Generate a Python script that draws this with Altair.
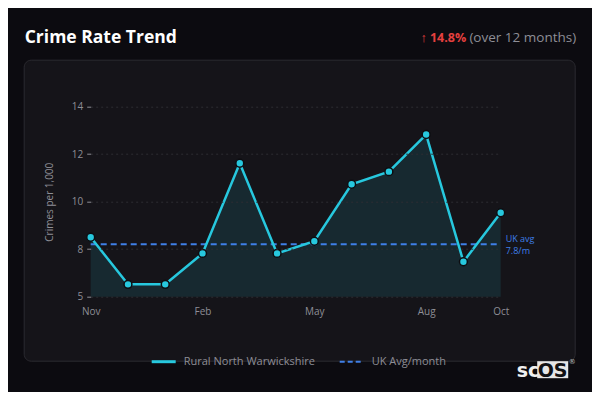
import altair as alt
import pandas as pd

# data
months = ["Nov", "Dec", "Jan", "Feb", "Mar", "Apr", "May", "Jun", "Jul", "Aug", "Sep", "Oct"]
rate = [8.5, 6.52, 6.52, 7.82, 11.61, 7.82, 8.33, 10.73, 11.26, 12.82, 7.47, 9.53]
uk_avg_line = 8.21
uk_avg_label = ["UK avg", "7.8/m"]
y_ticks = [6, 8, 10, 12, 14]
x_labels = ["Nov", "Feb", "May", "Aug", "Oct"]
series_names = ["Rural North Warwickshire", "UK Avg/month"]

W, H = 410, 214
CYAN = "#27c8de"
BLUE = "#3f7fe6"
GRAY = "#8e8e96"
FONT = "Open Sans"

df = pd.DataFrame({"month": months, "rate": rate})
one = pd.DataFrame({"k": [0]})

x_enc = alt.X("month:O", sort=months,
              scale=alt.Scale(type="point", padding=0),
              axis=alt.Axis(values=x_labels, labelAngle=0, ticks=False, domain=False,
                            labelColor=GRAY, labelFontSize=10, labelPadding=10,
                            labelFont=FONT, title=None, zindex=1))
y_scale = alt.Scale(domain=[6, 15], zero=False, nice=False)


def label(text, x, y, font=FONT, **kw):
    return alt.Chart(one).mark_text(font=font, **kw).transform_calculate(
        t=f"'{text}'").encode(x=alt.value(x), y=alt.value(y), text="t:N")


panel = alt.Chart(one).mark_rect(fill="#151419", stroke="#2b2a30", strokeWidth=1,
                                 cornerRadius=7).encode(
    x=alt.value(-66.5), x2=alt.value(484.5), y=alt.value(-22.5), y2=alt.value(278.5))

area = alt.Chart(df).mark_area(color=CYAN, opacity=0.12).encode(
    x=x_enc,
    y=alt.Y("rate:Q", scale=y_scale,
            axis=alt.Axis(values=y_ticks, labelExpr="datum.value == 6 ? '5' : datum.label",
                          grid=True, gridColor="#2e2d33", gridDash=[2, 3], domain=False,
                          tickColor=GRAY, tickSize=4, labelColor=GRAY, labelFontSize=10,
                          labelFont=FONT, labelPadding=4, zindex=1,
                          title="Crimes per 1,000", titleColor=GRAY, titleFontSize=10,
                          titleFont=FONT, titleFontWeight="normal", titleAngle=-90,
                          titleX=-41, titleY=119, titleAlign="center", titleBaseline="middle")),
    y2=alt.datum(6),
)

avg = alt.Chart(one).mark_rule(color=BLUE, strokeWidth=2, strokeDash=[6, 4]).encode(
    y=alt.datum(uk_avg_line), x=alt.value(0), x2=alt.value(W))
avg_t1 = label(uk_avg_label[0], W + 5, 156.5, fontSize=9, color=BLUE, align="left", baseline="middle")
avg_t2 = label(uk_avg_label[1], W + 5, 168, fontSize=9, color=BLUE, align="left", baseline="middle")

line = alt.Chart(df).mark_line(color=CYAN, strokeWidth=2.5).encode(
    x=x_enc, y=alt.Y("rate:Q", scale=y_scale))
pts = alt.Chart(df).mark_point(filled=True, fill=CYAN, stroke="#0d0d11", strokeWidth=1.5,
                               size=62, opacity=1).encode(
    x=x_enc, y=alt.Y("rate:Q", scale=y_scale))

title = label("Crime Rate Trend", -66, -39.5, fontSize=17.5, fontWeight="bold", color="#ffffff",
              align="left", baseline="alphabetic")
delta = label("\u2191 14.8%", 375.5, -41, fontSize=12.5, fontWeight="bold", color="#e5403f",
              align="right", baseline="alphabetic")
delta_note = label("(over 12 months)", 485.5, -41, fontSize=13.5, color=GRAY,
                   align="right", baseline="alphabetic")

leg_line = alt.Chart(one).mark_rule(color=CYAN, strokeWidth=3).encode(
    x=alt.value(61), x2=alt.value(85), y=alt.value(279))
leg_text1 = label(series_names[0], 93, 279, fontSize=11, color=GRAY, align="left", baseline="middle")
leg_dash = alt.Chart(one).mark_rule(color=BLUE, strokeWidth=2, strokeDash=[5, 3]).encode(
    x=alt.value(249), x2=alt.value(273), y=alt.value(279))
leg_text2 = label(series_names[1], 281, 279, fontSize=11, color=GRAY, align="left", baseline="middle")

logo_box = alt.Chart(one).mark_rect(fill="#e6e6e6").encode(
    x=alt.value(446.5), x2=alt.value(477.5), y=alt.value(278.5), y2=alt.value(295.5))
logo_sc = label("sc", 426, 294, font="DejaVu Sans", fontSize=19, fontWeight="bold",
                color="#f0f0f0", align="left", baseline="alphabetic")
logo_os = label("OS", 447, 294, font="DejaVu Sans", fontSize=19, fontWeight="bold",
                color="#111114", align="left", baseline="alphabetic")
logo_r = label("\u00ae", 478, 279, font="DejaVu Sans", fontSize=7, color="#bbbbbb",
               align="left", baseline="middle")

chart = alt.layer(
    panel, area, avg, line, pts, avg_t1, avg_t2, title, delta, delta_note,
    leg_line, leg_text1, leg_dash, leg_text2, logo_box, logo_sc, logo_os, logo_r
).properties(
    width=W, height=H, background="#0c0b10",
    autosize=alt.AutoSizeParams(type="none"),
    padding={"left": 82.7, "top": 74.7, "right": 584 - 82.7 - W, "bottom": 384 - 74.7 - H},
).configure_view(stroke=None)

chart.save("out.html", embed_options={"renderer": "svg", "actions": False})
